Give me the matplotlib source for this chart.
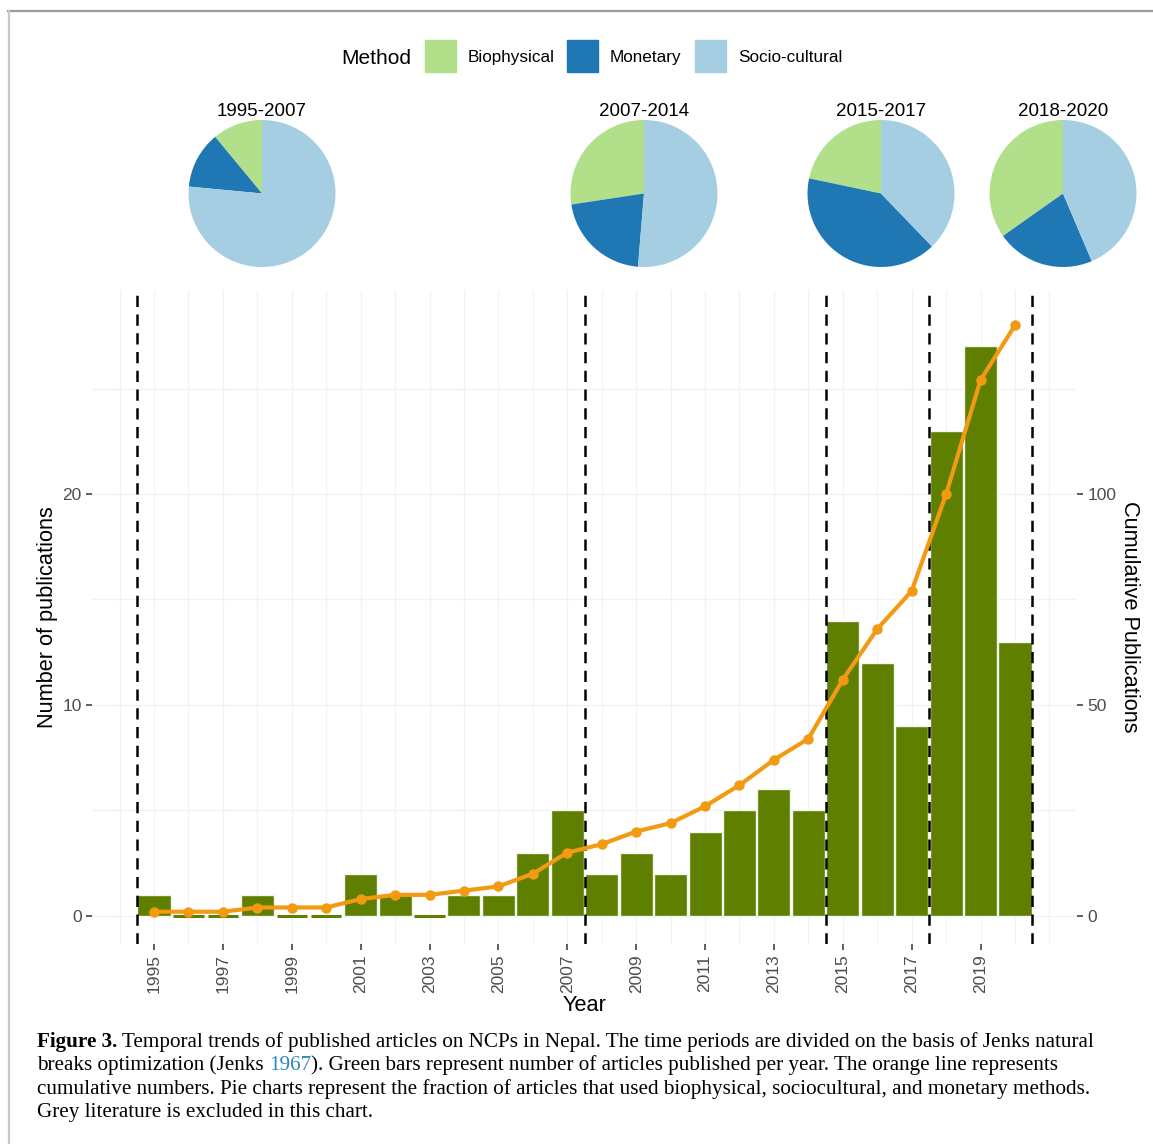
import numpy as np
import matplotlib
matplotlib.use("Agg")
import matplotlib.pyplot as plt
from matplotlib.patches import Rectangle
from matplotlib.lines import Line2D

# ---------------- data ----------------
years = list(range(1995, 2021))
counts = [1, 0, 0, 1, 0, 0, 2, 1, 0, 1, 1, 3, 5,
          2, 3, 2, 4, 5, 6, 5,
          14, 12, 9,
          23, 27, 13]
cumulative = list(np.cumsum(counts))
period_breaks = [1994.5, 2007.5, 2014.5, 2017.5, 2020.5]
methods = ["Biophysical", "Monetary", "Socio-cultural"]
period_labels = ["1995-2007", "2007-2014", "2015-2017", "2018-2020"]
pie_shares = [
    [11.0, 12.5, 76.5],
    [27.4, 21.3, 51.3],
    [21.7, 40.5, 37.8],
    [34.8, 21.6, 43.6],
]
xtick_years = list(range(1995, 2020, 2))
left_ticks = [0, 10, 20]
right_ticks = [0, 50, 100]

# ---------------- style ----------------
W, H = 1153, 1144
bar_green = "#5E7F00"
line_orange = "#F29A12"
pie_colors = ["#B2DF8A", "#1F78B4", "#A6CEE3"]
grid_c = "#F2F2F2"
tick_c = "#4D4D4D"
plt.rcParams["font.family"] = ["Liberation Sans", "DejaVu Sans"]

fig = plt.figure(figsize=(W / 100, H / 100), dpi=100)

def fx(px):
    return px / W

def fy(py):
    return 1 - py / H

# border lines (page frame)
fig.add_artist(Line2D([fx(8), 1], [fy(11), fy(11)], color="#9A9A9A", lw=1.6))
fig.add_artist(Line2D([fx(9), fx(9)], [fy(11), 0], color="#C8C8C8", lw=1.6))

# ---------------- main axes ----------------
pl, pr, pt, pb = 92, 1077, 290, 944
ax = fig.add_axes([fx(pl), fy(pb), fx(pr - pl), (pb - pt) / H])
x0, x1 = 1993.2, 2021.8
y0, y1 = -1.33, 29.67
ax.set_xlim(x0, x1)
ax.set_ylim(y0, y1)

for yv in [0, 5, 10, 15, 20, 25]:
    ax.axhline(yv, color=grid_c, lw=0.9, zorder=0)
for xv in range(1994, 2022):
    ax.axvline(xv, color=grid_c, lw=0.9, zorder=0)

ax.bar(years, counts, width=0.96, color=bar_green, edgecolor="#F4F4EE",
       linewidth=1.0, zorder=2)
zero_years = [y for y, c in zip(years, counts) if c == 0]
ax.hlines([0] * len(zero_years), [y - 0.44 for y in zero_years],
          [y + 0.44 for y in zero_years], color=bar_green, lw=2.2, zorder=2)

for b in period_breaks:
    ax.axvline(b, color="black", lw=1.8, linestyle=(0, (4.5, 3)), zorder=3)

for s in ax.spines.values():
    s.set_visible(False)
ax.set_xticks(xtick_years)
ax.set_xticklabels([str(y) for y in xtick_years], rotation=90)
ax.set_yticks(left_ticks)
ax.tick_params(axis="both", length=4.5, width=1.1, color="#333333",
               labelcolor=tick_c, labelsize=12.5, pad=3)
ax.set_xlabel("Year", fontsize=15.7, labelpad=1, color="black")
ax.set_ylabel("Number of publications", fontsize=15.7, labelpad=3, color="black")

ax2 = ax.twinx()
ax2.set_ylim(y0 * 5, y1 * 5)
ax2.plot(years, cumulative, color=line_orange, lw=3.0, marker="o",
         markersize=6.5, zorder=5)
for s in ax2.spines.values():
    s.set_visible(False)
ax2.set_yticks(right_ticks)
ax2.tick_params(axis="y", length=4.5, width=1.1, color="#333333",
                labelcolor=tick_c, labelsize=12.5, pad=3)
ax2.set_ylabel("Cumulative Publications", fontsize=15.7, rotation=270,
               labelpad=17, color="black")

# ---------------- pies ----------------
pie_centers = [262, 644, 881, 1063]
pie_cy = 193.5
r = 73.5
for cx, lab, shares in zip(pie_centers, period_labels, pie_shares):
    pax = fig.add_axes([fx(cx - r), fy(pie_cy + r), fx(2 * r), 2 * r / H])
    pax.pie(shares, colors=pie_colors, startangle=90, counterclock=True,
            radius=1.0, wedgeprops=dict(linewidth=0))
    pax.set_xlim(-1, 1)
    pax.set_ylim(-1, 1)
    pax.set_aspect("equal")
    pax.axis("off")
    fig.text(fx(cx), fy(111), lab, ha="center", va="center", fontsize=13.5)

# ---------------- legend ----------------
fig.text(fx(341), fy(56), "Method", ha="left", va="center_baseline", fontsize=15)
leg_boxes = [425, 567, 695]
leg_text_x = [468, 610, 738]
for bx, tx, c, m in zip(leg_boxes, leg_text_x, pie_colors, methods):
    fig.add_artist(Rectangle((fx(bx), fy(72)), fx(30.5), 32 / H, color=c,
                             transform=fig.transFigure))
    fig.text(fx(tx), fy(56), m, ha="left", va="center_baseline", fontsize=12.3)

# ---------------- caption ----------------
cap_lines = [
    [("Figure 3.", "bold", "black"),
     (" Temporal trends of published articles on NCPs in Nepal. The time periods are divided on the basis of Jenks natural", "normal", "black")],
    [("breaks optimization (Jenks ", "normal", "black"), ("1967", "normal", "#2E86C1"),
     ("). Green bars represent number of articles published per year. The orange line represents", "normal", "black")],
    [("cumulative numbers. Pie charts represent the fraction of articles that used biophysical, sociocultural, and monetary methods.", "normal", "black")],
    [("Grey literature is excluded in this chart.", "normal", "black")],
]
cap_y = [1042, 1065.5, 1089, 1112.5]
renderer = fig.canvas.get_renderer()
for line, ypx in zip(cap_lines, cap_y):
    xp = 37
    for txt, wgt, col in line:
        t = fig.text(fx(xp), fy(ypx), txt, ha="left", va="center",
                     fontsize=15.2, fontweight=wgt, color=col,
                     family=["Liberation Serif", "DejaVu Serif"])
        bb = t.get_window_extent(renderer=renderer)
        xp += bb.width

fig.savefig("out.png", dpi=100)
